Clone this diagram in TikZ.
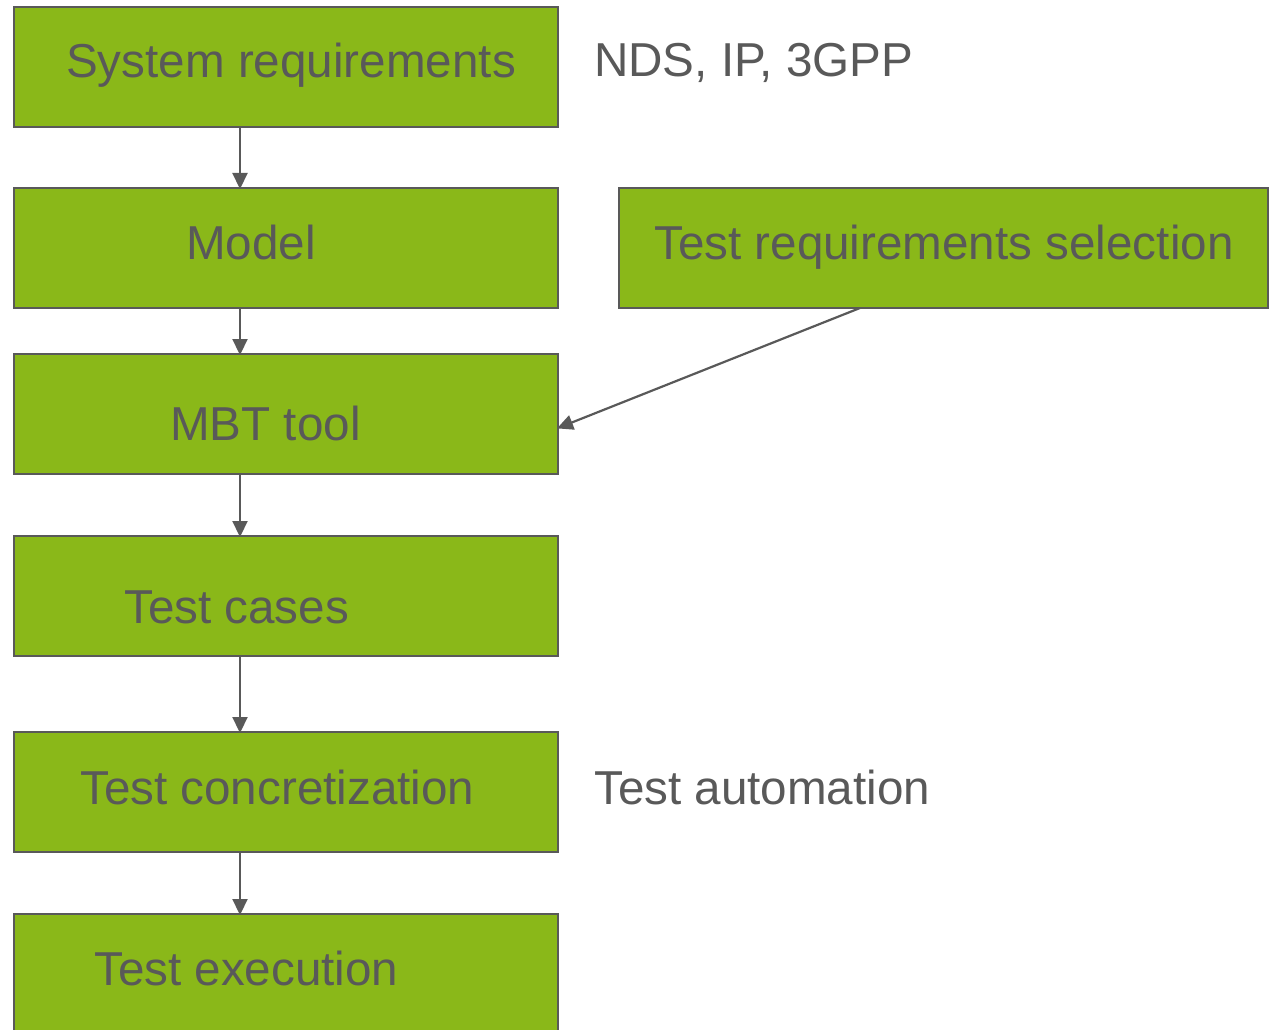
\documentclass[tikz,border=0pt]{standalone}
\usepackage{fontspec}
\setmainfont{Liberation Sans}
\usetikzlibrary{arrows.meta}
\definecolor{boxgreen}{HTML}{8AB819}
\definecolor{ink}{HTML}{595959}
\tikzset{
  stepbox/.style={draw=ink, line width=2pt, fill=boxgreen, rectangle,
    minimum width=544pt, minimum height=120pt, inner sep=0pt, outer sep=0pt},
  widebox/.style={stepbox, minimum width=649pt},
  txt/.style={anchor=base west, inner sep=0pt, text=ink,
    font=\fontsize{47.6}{56}\selectfont},
  flow/.style={draw=ink, line width=2.2pt,
    -{Triangle[length=16pt,width=15pt]}, shorten >=-1pt}
}
\begin{document}
\begin{tikzpicture}[x=1pt,y=-1pt]
\useasboundingbox (0,0) rectangle (1272,1030);

% boxes
\node[stepbox] (sys)   at (286,67)  {};
\node[stepbox] (model) at (286,248) {};
\node[widebox] (sel)   at (943.5,248) {};
\node[stepbox] (mbt)   at (286,414) {};
\node[stepbox] (cases) at (286,596) {};
\node[stepbox] (conc)  at (286,792) {};
\node[stepbox] (exec)  at (286,974) {};

% box texts
\node[txt] (tsys)   at (66,78)   {System requirements};
\node[txt] (tmodel) at (186,259) {Model};
\node[txt] (tsel)   at (654,259) {Test requirements selection};
\node[txt] (tmbt)   at (170,440) {MBT tool};
\node[txt] (tcases) at (124,623) {Test cases};
\node[txt] (tconc)  at (80,804)  {Test concretization};
\node[txt] (texec)  at (94,985)  {Test execution};

% side notes
\node[txt] (nds)  at (594,77)  {NDS, IP, 3GPP};
\node[txt] (auto) at (594,804) {Test automation};

% connectors
\coordinate (x) at (240,0);
\draw[flow] (sys.south -| x)   -- (model.north -| x);
\draw[flow] (model.south -| x) -- (mbt.north -| x);
\draw[flow] (mbt.south -| x)   -- (cases.north -| x);
\draw[flow] (cases.south -| x) -- (conc.north -| x);
\draw[flow] (conc.south -| x)  -- (exec.north -| x);
\coordinate (selout) at (860,308);
\coordinate (mbtin) at (558,428);
\draw[flow] (selout) -- (mbtin);
\end{tikzpicture}
\end{document}
